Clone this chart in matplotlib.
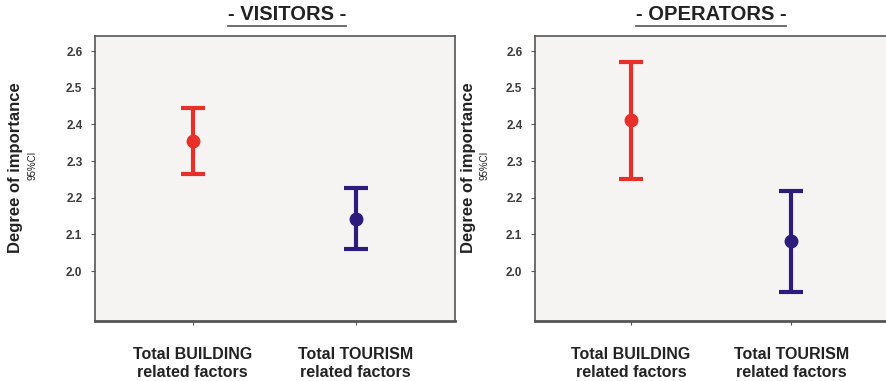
import matplotlib.pyplot as plt
from matplotlib.lines import Line2D

plt.rcParams['font.family'] = ['Liberation Sans', 'DejaVu Sans']

categories = ["Total BUILDING\nrelated factors", "Total TOURISM\nrelated factors"]
panel_titles = ["- VISITORS -", "- OPERATORS -"]
yticks = [2.0, 2.1, 2.2, 2.3, 2.4, 2.5, 2.6]

visitors_mean = [2.356, 2.141]
visitors_low = [2.266, 2.061]
visitors_high = [2.445, 2.227]

operators_mean = [2.411, 2.083]
operators_low = [2.250, 1.943]
operators_high = [2.571, 2.219]

colors = ["#e8302a", "#2e1b7c"]

fig = plt.figure(figsize=(8.87, 3.81), dpi=100)
W, H = 887, 381
boxes = [(95, 36, 455, 321), (535, 36, 889, 321)]
label_x = [(16, 33), (469, 485)]
title_x = [287, 711]
data = [(visitors_mean, visitors_low, visitors_high),
        (operators_mean, operators_low, operators_high)]

for k, ((x0, y0, x1, y1), (m, lo, hi), title) in enumerate(zip(boxes, data, panel_titles)):
    ax = fig.add_axes([x0 / W, 1 - y1 / H, (x1 - x0) / W, (y1 - y0) / H])
    ax.set_facecolor("#f6f4f3")
    for i in range(len(categories)):
        ax.errorbar(i, m[i], yerr=[[m[i] - lo[i]], [hi[i] - m[i]]],
                    fmt="o", color=colors[i], ecolor=colors[i],
                    markersize=9, elinewidth=3, capsize=8.5, capthick=3)
    ax.set_xlim(-0.6, 1.61)
    ax.set_ylim(1.864, 2.641)
    ax.set_yticks(yticks)
    ax.set_yticklabels([f"{t:.1f}" for t in yticks], fontsize=8.5,
                       fontweight="bold", color="#3a3a3a")
    ax.set_xticks(range(len(categories)))
    ax.set_xticklabels(categories, fontsize=11.5, fontweight="bold",
                       color="#222222", linespacing=1.25)
    ax.tick_params(axis="y", length=3, width=0.8, color="#555555", pad=6)
    ax.tick_params(axis="x", length=3, width=0.8, color="#555555", pad=16)
    for s in ax.spines.values():
        s.set_color("#555555")
        s.set_linewidth(1.2)
    ax.spines["bottom"].set_linewidth(2)

    # y label
    lx, cx2 = label_x[k]
    fig.text(lx / W, 1 - 168 / H, "Degree of importance", rotation=90,
             ha="center", va="center", fontsize=12, fontweight="bold",
             color="#222222")
    fig.text(cx2 / W, 1 - 165 / H, "95%CI", rotation=90,
             ha="center", va="center", fontsize=7, color="#222222")

    # underlined title
    t = fig.text(title_x[k] / W, 1 - 14 / H, title, ha="center", va="center",
                 fontsize=14.5, fontweight="bold", color="#222222")
    fig.canvas.draw()
    bb = t.get_window_extent()
    fig.add_artist(Line2D([bb.x0 / W, bb.x1 / W],
                          [(bb.y0 - 2) / H, (bb.y0 - 2) / H],
                          color="#555555", linewidth=1.2))

fig.savefig("out.png", dpi=100, facecolor="white")
